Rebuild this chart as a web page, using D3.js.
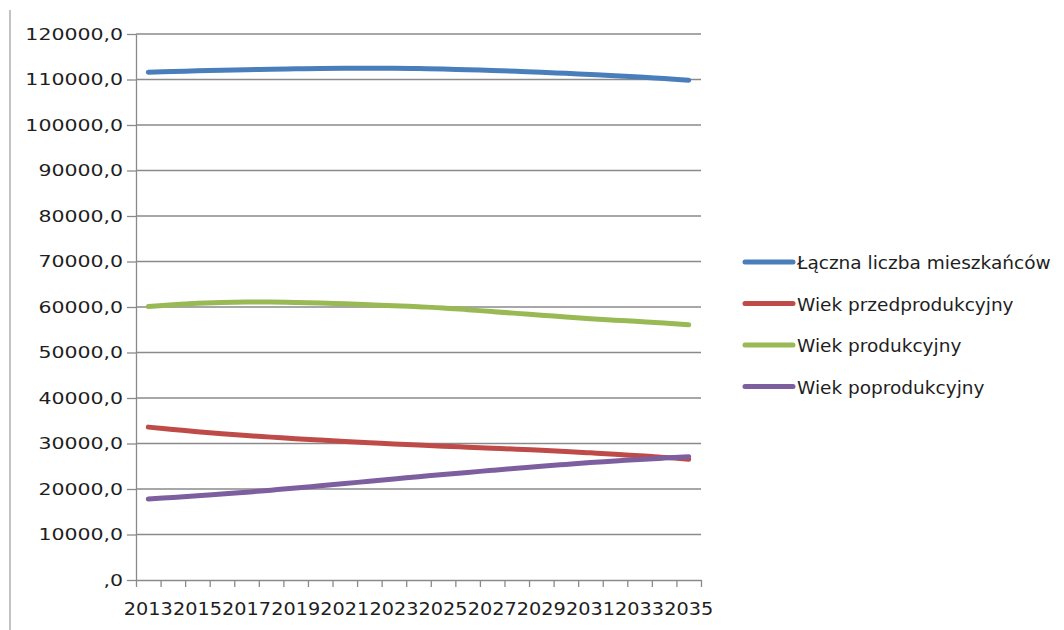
<!DOCTYPE html>
<html>
<head>
<meta charset="utf-8">
<script src="https://cdn.jsdelivr.net/npm/d3@7"></script>
<style>
  body { margin: 0; background: #fff; }
  text { font-family: "DejaVu Sans", sans-serif; fill: #1e1e1e; }
</style>
</head>
<body>
<div id="chart"></div>
<script>
const W = 1064, H = 630
const LEFT = 136, RIGHT = 701, TOP = 34, BOTTOM = 580

// data
const years = d3.range(2013, 2036)
const seriesNames = ["Łączna liczba mieszkańców", "Wiek przedprodukcyjny", "Wiek produkcyjny", "Wiek poprodukcyjny"]
const seriesColors = ["#4a7ebb", "#be4b48", "#98b954", "#7d5fa0"]

const total = [111600, 111750, 111900, 112050, 112150, 112250, 112350, 112400, 112450, 112450, 112450, 112400,
               112300, 112150, 112000, 111800, 111600, 111350, 111100, 110850, 110550, 110200, 109850]
const preWorking = [33600, 33100, 32600, 32150, 31750, 31400, 31050, 30750, 30450, 30150, 29900, 29650,
                    29400, 29200, 28950, 28750, 28500, 28250, 27950, 27650, 27300, 26950, 26550]
const working = [60100, 60500, 60800, 61000, 61100, 61100, 61000, 60900, 60700, 60500, 60300, 60050,
                 59800, 59400, 59000, 58600, 58200, 57800, 57400, 57100, 56800, 56500, 56100]
const postWorking = [17800, 18150, 18500, 18900, 19300, 19750, 20200, 20700, 21200, 21700, 22200, 22700,
                     23200, 23650, 24100, 24550, 25000, 25400, 25800, 26150, 26500, 26800, 27100]

const yTicks = d3.range(0, 120001, 10000)
const xLabelYears = years.filter((d, i) => i % 2 === 0)

const svg = d3.select("#chart").append("svg")
    .attr("width", W)
    .attr("height", H)

// outer border line on the left
svg.append("line")
    .attr("x1", 10).attr("x2", 10)
    .attr("y1", 10).attr("y2", H)
    .attr("stroke", "#9a9a9a")
    .attr("stroke-width", 1.2)

const x = d3.scaleBand()
    .domain(years)
    .range([LEFT, RIGHT])

const xEdge = d3.scaleLinear()
    .domain([0, years.length])
    .range([LEFT, RIGHT])

const y = d3.scaleLinear()
    .domain([0, 120000])
    .range([BOTTOM, TOP])

// gridlines
svg.append("g")
    .selectAll("line")
    .data(yTicks.filter(d => d > 0))
    .enter().append("line")
        .attr("x1", LEFT).attr("x2", RIGHT)
        .attr("y1", d => y(d)).attr("y2", d => y(d))
        .attr("stroke", "#8a8a8a")
        .attr("stroke-width", 1.3)

// y axis
const yScaleX = 1.28
const yAxisGroup = svg.append("g")
    .attr("transform", `translate(${LEFT}, 0)`)
    .call(d3.axisLeft(y)
        .tickValues(yTicks)
        .tickSize(9)
        .tickSizeOuter(0)
        .tickPadding(4)
        .tickFormat(d => d === 0 ? ",0" : d + ",0"))
yAxisGroup.selectAll("line, path").attr("stroke", "#8a8a8a").attr("stroke-width", 1.3)
yAxisGroup.selectAll("text")
    .attr("x", -13 / yScaleX)
    .attr("transform", `scale(${yScaleX},1)`)
    .style("font-size", "16px")
    .style("font-family", "DejaVu Sans")
    .attr("fill", "#1e1e1e")

// x axis: tick marks at category edges
const xTickGroup = svg.append("g")
    .attr("transform", `translate(0, ${BOTTOM})`)
    .call(d3.axisBottom(xEdge)
        .tickValues(d3.range(0, years.length + 1))
        .tickSize(7)
        .tickSizeOuter(0)
        .tickFormat(""))
xTickGroup.selectAll("line, path").attr("stroke", "#8a8a8a").attr("stroke-width", 1.3)

// x axis labels at category centres
const xLabelGroup = svg.append("g")
    .attr("transform", `translate(0, ${BOTTOM})`)
    .call(d3.axisBottom(x)
        .tickValues(xLabelYears)
        .tickSize(0)
        .tickPadding(22))
xLabelGroup.select(".domain").remove()
xLabelGroup.selectAll("text")
    .attr("transform", "scale(1.07,1)")
    .style("font-size", "18px")
    .style("font-family", "DejaVu Sans")
    .attr("fill", "#1e1e1e")

// lines
const allSeries = [total, preWorking, working, postWorking]
const line = d3.line()
    .x((d, i) => x(years[i]) + x.bandwidth() / 2)
    .y(d => y(d))
    .curve(d3.curveCatmullRom.alpha(0.5))

svg.append("g")
    .selectAll("path")
    .data(allSeries)
    .enter().append("path")
        .attr("d", d => line(d))
        .attr("fill", "none")
        .attr("stroke", (d, i) => seriesColors[i])
        .attr("stroke-width", 5)
        .attr("stroke-linecap", "round")
        .attr("stroke-linejoin", "round")

// legend
const legend = svg.append("g")
    .selectAll("g")
    .data(seriesNames)
    .enter().append("g")
        .attr("transform", (d, i) => `translate(745, ${262 + i * 41.5})`)

legend.append("line")
    .attr("x1", 0).attr("x2", 48)
    .attr("y1", 0).attr("y2", 0)
    .attr("stroke", (d, i) => seriesColors[i])
    .attr("stroke-width", 5)
    .attr("stroke-linecap", "round")

legend.append("text")
    .attr("x", 52)
    .attr("y", 7)
    .style("font-size", "18.5px")
    .text(d => d)
</script>
</body>
</html>
